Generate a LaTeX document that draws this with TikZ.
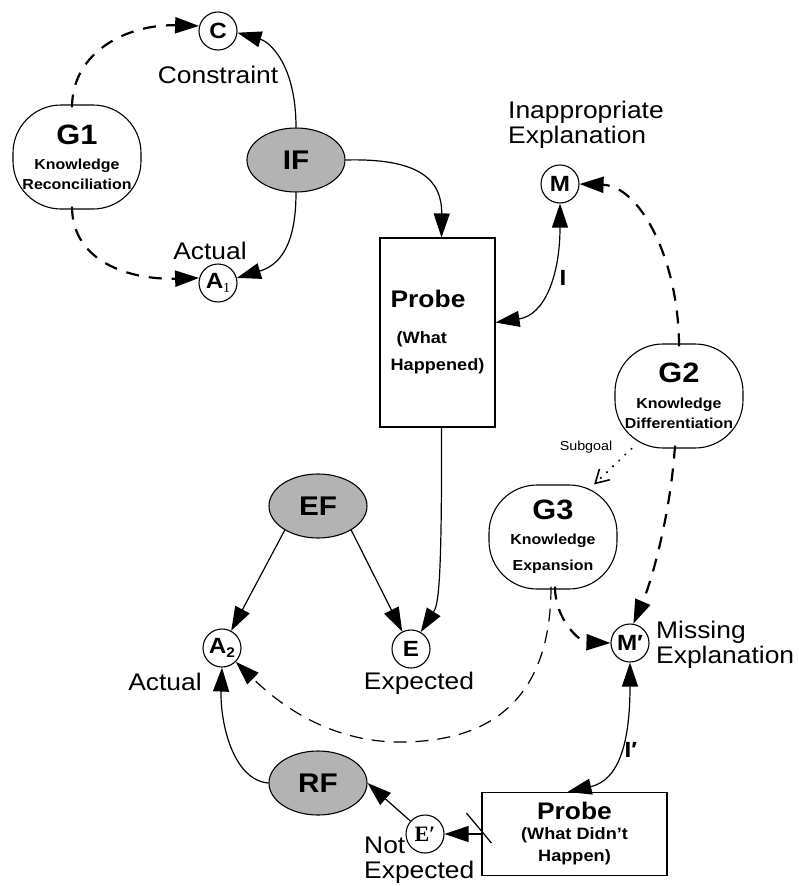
\documentclass[tikz,border=0pt]{standalone}
\usepackage{fontspec}
\setmainfont{Liberation Sans}[FakeStretch=1.1]
\newfontfamily\timesfont{Liberation Serif}
\usetikzlibrary{arrows.meta,shapes.geometric}
\definecolor{factorgrey}{HTML}{B3B3B3}
\newcommand\goalfont{\fontsize{28}{28}\selectfont}
\newcommand\probefont{\fontsize{24}{24}\selectfont}

\begin{document}
\begin{tikzpicture}[x=1pt, y=-1pt,
    state/.style={shape=circle, draw, line width=1.1pt, minimum size=38pt, inner sep=0pt, font=\bfseries\fontsize{22}{22}\selectfont},
    factor/.style={shape=ellipse, draw, fill=factorgrey, line width=1.1pt, minimum width=98pt, minimum height=64pt, inner sep=0pt, font=\bfseries\fontsize{27}{27}\selectfont},
    goal/.style={shape=rectangle, rounded corners=48pt, draw, line width=1.1pt, minimum width=128pt, minimum height=104pt, inner sep=0pt, align=center, font=\bfseries\fontsize{14.5}{20}\selectfont},
    probe/.style={shape=rectangle, draw, line width=1.1pt, inner sep=0pt, font=\bfseries\fontsize{16.5}{20}\selectfont},
    tag/.style={inner sep=0pt, align=left, font=\fontsize{24}{25}\selectfont},
    arclabel/.style={inner sep=0pt, font=\bfseries\fontsize{22}{22}\selectfont},
    flow/.style={line width=1.2pt, -{Triangle[length=24pt,width=16pt]}},
    flowboth/.style={line width=1.2pt, {Triangle[length=24pt,width=16pt]}-{Triangle[length=24pt,width=16pt]}},
    goalflow/.style={flow, line width=2.2pt, dash pattern=on 13pt off 10pt},
    thinflow/.style={flow, dash pattern=on 13pt off 9pt},
    subflow/.style={line width=2pt, line cap=round, dash pattern=on 0.5pt off 8pt, -{Straight Barb[length=13pt,width=15pt,line width=1.6pt]}}]
  \useasboundingbox (0,0) rectangle (798,886);

  \node at (77, 157) (G1) [goal] {{\goalfont G1}\\[5pt] Knowledge\\ Reconciliation};
  \node at (679, 396) (G2) [goal] {{\goalfont G2}\\[6pt] Knowledge\\ Differentiation};
  \node at (553, 537) (G3) [goal] {{\goalfont G3}\\[5pt] Knowledge\\[6pt] Expansion};

  \node at (296, 160) (IF) [factor] {IF};
  \node at (318, 506) (EF) [factor] {EF};
  \node at (318, 783) (RF) [factor] {RF};

  \node at (437.5, 332.5) (P1) [probe, minimum width=115pt, minimum height=189pt, align=left]
    {{\probefont Probe}\\[16pt]\hspace*{6pt}(What\\[7pt] Happened)};
  \node at (574.5, 834) (P2) [probe, minimum width=185pt, minimum height=83pt, align=center]
    {{\probefont Probe}\\ (What Didn’t\\[2pt] Happen)};

  \node at (218, 31) (C) [state] {C};
  \node at (218, 283) (A1) [state] {A\raisebox{-4pt}{\timesfont\mdseries\fontsize{14}{14}\selectfont 1}};
  \node at (560, 184) (M) [state] {M};
  \node at (222, 648) (A2) [state] {A\raisebox{-4pt}{\fontsize{14}{14}\selectfont 2}};
  \node at (411, 649) (E) [state] {E};
  \node at (630, 643) (Mp) [state] {M′};
  \node at (425, 834) (Ep) [state] {\timesfont E′};

  \node at (218, 75) (lblC) [tag] {Constraint};
  \node at (210, 251) (lblA1) [tag] {Actual};
  \node at (508, 125) (lblM) [tag, anchor=west] {Inappropriate\\Explanation};
  \node at (563, 278) (lblI) [arclabel] {I};
  \node at (586, 447) (lblsub) [inner sep=0pt, font=\fontsize{13}{13}\selectfont] {Subgoal};
  \node at (656, 645) (lblMp) [tag, anchor=west] {Missing\\Explanation};
  \node at (165, 682) (lblA2) [tag] {Actual};
  \node at (419, 683) (lblE) [tag] {Expected};
  \node at (631, 750) (lblIp) [arclabel] {I′};
  \node at (364, 860) (lblEp) [tag, anchor=west] {Not\\Expected};

  \draw[goalflow] ([shift={(-5,3)}]G1.north) .. controls (72,50) and (130,24) .. (C.165);
  \draw[goalflow] ([shift={(-5,-3)}]G1.south) .. controls (72,262) and (130,280) .. (A1.165);
  \draw[flow] (IF.north) .. controls (296,65) and (270,42) .. (C.-5);
  \draw[flow] (IF.south) .. controls (296,245) and (280,265) .. (A1.15);
  \draw[flow] (IF.east) .. controls (420,158) and (442,180) .. ([xshift=4]P1.north);
  \draw[flowboth] (M.south) .. controls (560,275) and (545,315) .. ([yshift=10]P1.east);
  \draw[goalflow] ([shift={(0,3)}]G2.north) .. controls (679,260) and (640,186) .. (M.east);
  \draw[subflow] (G2.228) -- (G3.52);
  \draw[goalflow] ([shift={(-4,-3)}]G2.south) .. controls (670,520) and (650,585) .. (Mp.80);
  \draw[goalflow] ([shift={(2,-3)}]G3.south) .. controls (555,620) and (580,642) .. (Mp.west);
  \draw[thinflow] ([shift={(-2,-3)}]G3.south) .. controls (551,690) and (500,742) .. (400,742)
    .. controls (330,742) and (280,705) .. (A2.-45);
  \draw[flowboth] (Mp.south) .. controls (630,740) and (620,780) .. ([xshift=-7]P2.north);
  \draw[flow] (P2.west) -- (Ep.east);
  \draw[line width=1.2pt] ([shift={(-15,-21)}]P2.west) -- ([shift={(10,9)}]P2.west);
  \draw[flow] (Ep) -- (RF.east);
  \draw[flow] (RF.west) .. controls (232,780) and (220,720) .. (A2.south);
  \draw[flow] (EF.216) -- (A2);
  \draw[flow] (EF.324) -- (E);
  \draw[flow] ([xshift=4]P1.south) .. controls (442,590) and (438,605) .. (E.60);
\end{tikzpicture}
\end{document}
